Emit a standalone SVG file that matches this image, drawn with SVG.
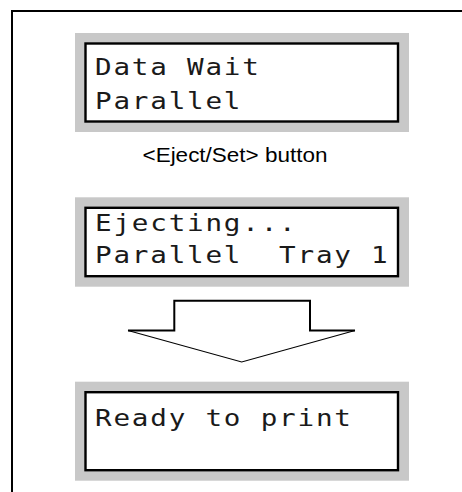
<svg xmlns="http://www.w3.org/2000/svg" width="462" height="492" viewBox="0 0 462 492">
  <style>
    .panel { fill: #c8c8c8; }
    .screen { fill: #ffffff; stroke: #000000; stroke-width: 2.4; }
    .lcd { font-family: "DejaVu Sans Mono", "Liberation Mono", monospace; font-size: 23px; fill: #1a1a1a; letter-spacing: 1.5px; }
    .lbl { font-family: "Liberation Sans", Arial, sans-serif; font-size: 20px; fill: #000000; }
    .frame { fill: none; stroke: #000000; stroke-width: 2; }
    .stem { fill: none; stroke: #000000; stroke-width: 2; }
    .head { fill: none; stroke: #000000; stroke-width: 1.2; }
  </style>
  <rect width="462" height="492" fill="#ffffff"/>
  <g id="frame">
    <path class="frame" d="M462,11 H12 V492"/>
  </g>
  <g id="lcd-data-wait">
    <rect class="panel" x="75" y="33" width="334" height="99"/>
    <rect class="screen" x="85.5" y="43.5" width="312.5" height="78"/>
    <text class="lcd" transform="translate(95,75) scale(1.2,1)">Data Wait</text>
    <text class="lcd" transform="translate(95,109) scale(1.2,1)">Parallel</text>
  </g>
  <g id="label-eject-set">
    <text class="lbl" x="235" y="161.7" text-anchor="middle" textLength="185" lengthAdjust="spacingAndGlyphs">&lt;Eject/Set&gt; button</text>
  </g>
  <g id="lcd-ejecting">
    <rect class="panel" x="75" y="197.3" width="334" height="89.4"/>
    <rect class="screen" x="85.5" y="207.8" width="312.5" height="68.4"/>
    <text class="lcd" transform="translate(95,231) scale(1.2,1)">Ejecting...</text>
    <text class="lcd" transform="translate(95,263) scale(1.2,1)" xml:space="preserve">Parallel  Tray 1</text>
  </g>
  <g id="connectors">
    <path class="stem" d="M128,330.5 H174.3 V300.8 H310 V330.5 H355"/>
    <path class="head" d="M128,330.5 L241.7,362 L355,330.5"/>
  </g>
  <g id="lcd-ready">
    <rect class="panel" x="75" y="381.7" width="334" height="99"/>
    <rect class="screen" x="85.5" y="392.2" width="312.5" height="78"/>
    <text class="lcd" transform="translate(95,426) scale(1.2,1)">Ready to print</text>
  </g>
</svg>
